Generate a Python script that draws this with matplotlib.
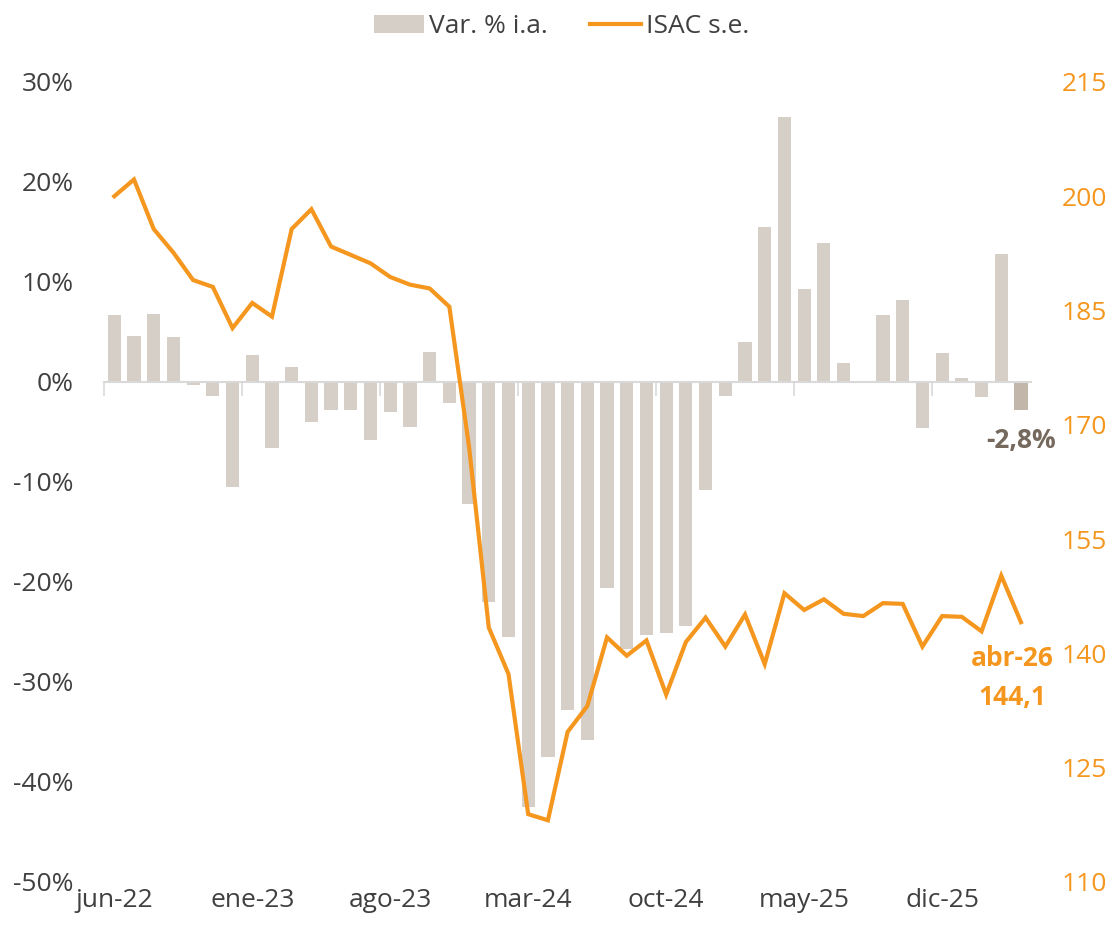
import numpy as np
import matplotlib
matplotlib.use('Agg')
import matplotlib.pyplot as plt
from matplotlib.patches import Patch
from matplotlib.lines import Line2D

plt.rcParams['font.family'] = ['Open Sans', 'DejaVu Sans']

# monthly labels jun-22 .. abr-26
months_es = ['ene', 'feb', 'mar', 'abr', 'may', 'jun', 'jul', 'ago', 'sep', 'oct', 'nov', 'dic']
periods = []
for year in range(2022, 2027):
    for m in range(12):
        if (year == 2022 and m < 5) or (year == 2026 and m > 3):
            continue
        periods.append(f"{months_es[m]}-{str(year)[2:]}")

# year-on-year change (%)
var_ia = [6.7, 4.6, 6.8, 4.5, -0.3, -1.4, -10.5, 2.7, -6.6, 1.5,
          -4.0, -2.8, -2.8, -5.8, -3.0, -4.5, 3.0, -2.1, -12.2, -22.0,
          -25.5, -42.5, -37.5, -32.8, -35.8, -20.6, -26.7, -25.3, -25.1, -24.4,
          -10.8, -1.4, 4.0, 15.5, 26.5, 9.3, 13.9, 1.9, 0.0, 6.7,
          8.2, -4.6, 2.9, 0.4, -1.5, 12.8, -2.8]

# ISAC seasonally adjusted index
isac_se = [200.0, 202.2, 195.7, 192.6, 189.0, 188.1, 182.7, 186.0, 184.2, 195.7,
           198.3, 193.4, 192.3, 191.2, 189.4, 188.4, 187.9, 185.5, 167.1, 143.4,
           137.3, 118.9, 118.1, 129.7, 133.1, 142.1, 139.7, 141.7, 134.6, 141.5,
           144.7, 140.9, 145.1, 138.6, 147.9, 145.7, 147.1, 145.2, 144.9, 146.6,
           146.5, 140.9, 144.9, 144.8, 142.9, 150.2, 144.1]

left_ticks = list(range(-50, 31, 10))
right_ticks = list(range(110, 216, 15))

BAR_COLOR = '#D6CFC7'
LAST_BAR_COLOR = '#C2B6AB'
ORANGE = '#F5961E'
TEXT_GRAY = '#404040'
LABEL_BROWN = '#75695D'
FS = 19

x = np.arange(len(periods))

fig = plt.figure(figsize=(11.12, 9.42), dpi=100)
ax = fig.add_axes([0.0939, 0.0637, 0.8331, 0.8493])
ax2 = ax.twinx()

colors = [BAR_COLOR] * (len(var_ia) - 1) + [LAST_BAR_COLOR]
ax.bar(x, var_ia, width=0.67, color=colors, zorder=2)
ax2.plot(x, isac_se, color=ORANGE, lw=3, solid_joinstyle='miter', zorder=3)

ax.set_xlim(-0.5, len(periods) - 0.5)
ax.set_ylim(-50, 30)
ax2.set_ylim(110, 215)

# zero line with category-boundary ticks
for s in ['top', 'right', 'left']:
    ax.spines[s].set_visible(False)
for s in ['top', 'right', 'left', 'bottom']:
    ax2.spines[s].set_visible(False)
ax.spines['bottom'].set_position(('data', 0))
ax.spines['bottom'].set_color('#D9D9D9')
ax.spines['bottom'].set_linewidth(1.5)
ax.set_xticks(np.arange(-0.5, len(periods), 7))
ax.tick_params(axis='x', length=10, width=1.2, color='#D9D9D9', labelbottom=False)

sec = ax.secondary_xaxis('bottom')
sec.spines['bottom'].set_visible(False)
sec.set_xticks(x[::7])
sec.set_xticklabels(periods[::7])
sec.tick_params(length=0, labelsize=FS, labelcolor=TEXT_GRAY, pad=4)

ax.set_yticks(left_ticks)
ax.set_yticklabels([f"{t}%" for t in left_ticks])
ax.tick_params(axis='y', length=0, labelsize=FS, labelcolor=TEXT_GRAY, pad=22)

ax2.set_yticks(right_ticks)
ax2.tick_params(axis='y', length=0, labelsize=FS, labelcolor=ORANGE, pad=22)

# annotations for last observation
ax.annotate(f"{var_ia[-1]:.1f}%".replace('.', ','), xy=(x[-1], var_ia[-1]),
            xytext=(0, -22), textcoords='offset points', ha='center', va='center',
            fontsize=FS, fontweight='bold', color=LABEL_BROWN)
ax2.annotate(periods[-1], xy=(x[-1], isac_se[-1]), xytext=(-6, -26),
             textcoords='offset points', ha='center', va='center',
             fontsize=FS, fontweight='bold', color=ORANGE)
ax2.annotate(f"{isac_se[-1]:.1f}".replace('.', ','), xy=(x[-1], isac_se[-1]),
             xytext=(-6, -54), textcoords='offset points', ha='center', va='center',
             fontsize=FS, fontweight='bold', color=ORANGE)

handles = [Patch(facecolor=BAR_COLOR, edgecolor='none'),
           Line2D([0], [0], color=ORANGE, lw=3)]
fig.legend(handles, ['Var. % i.a.', 'ISAC s.e.'], loc='upper center',
           bbox_to_anchor=(0.505, 1.01), ncol=2, frameon=False, fontsize=FS,
           labelcolor=TEXT_GRAY, handlelength=1.9, handleheight=0.65,
           handletextpad=0.2, columnspacing=1.6)

fig.savefig('out.png', dpi=100)
